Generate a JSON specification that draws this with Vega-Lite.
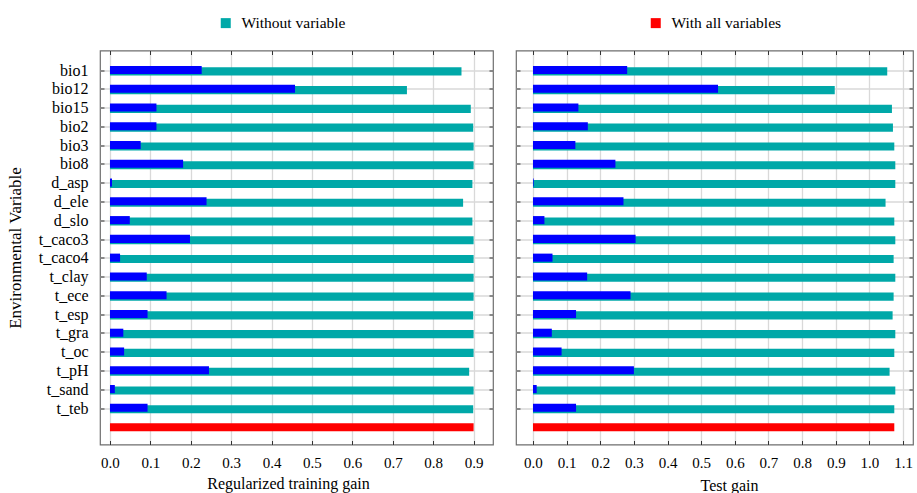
{
  "$schema": "https://vega.github.io/schema/vega-lite/v6.json",
  "padding": {"left": 5, "top": 14.5, "right": 0, "bottom": 0},
  "background": "white",
  "config": {
    "font": "Liberation Serif",
    "view": {"stroke": "#6e6e6e", "strokeWidth": 1.2},
    "axis": {
      "labelFont": "Liberation Serif",
      "titleFont": "Liberation Serif",
      "labelColor": "#000000",
      "titleColor": "#000000",
      "titleFontWeight": "normal",
      "domain": false,
      "tickColor": "#333333",
      "tickSize": -4,
      "gridColor": "#d9d9d9",
      "gridWidth": 1.3
    }
  },
  "datasets": {
    "jk": [
      {"variable": "bio1", "series": "Without variable", "train": 0.870, "test": 1.053},
      {"variable": "bio1", "series": "With only variable", "train": 0.227, "test": 0.280},
      {"variable": "bio12", "series": "Without variable", "train": 0.735, "test": 0.897},
      {"variable": "bio12", "series": "With only variable", "train": 0.458, "test": 0.550},
      {"variable": "bio15", "series": "Without variable", "train": 0.893, "test": 1.067},
      {"variable": "bio15", "series": "With only variable", "train": 0.115, "test": 0.135},
      {"variable": "bio2", "series": "Without variable", "train": 0.899, "test": 1.070},
      {"variable": "bio2", "series": "With only variable", "train": 0.115, "test": 0.163},
      {"variable": "bio3", "series": "Without variable", "train": 0.900, "test": 1.074},
      {"variable": "bio3", "series": "With only variable", "train": 0.076, "test": 0.126},
      {"variable": "bio8", "series": "Without variable", "train": 0.900, "test": 1.077},
      {"variable": "bio8", "series": "With only variable", "train": 0.181, "test": 0.245},
      {"variable": "d_asp", "series": "Without variable", "train": 0.897, "test": 1.077},
      {"variable": "d_asp", "series": "With only variable", "train": 0.005, "test": 0.002},
      {"variable": "d_ele", "series": "Without variable", "train": 0.874, "test": 1.048},
      {"variable": "d_ele", "series": "With only variable", "train": 0.239, "test": 0.269},
      {"variable": "d_slo", "series": "Without variable", "train": 0.897, "test": 1.074},
      {"variable": "d_slo", "series": "With only variable", "train": 0.049, "test": 0.034},
      {"variable": "t_caco3", "series": "Without variable", "train": 0.900, "test": 1.077},
      {"variable": "t_caco3", "series": "With only variable", "train": 0.198, "test": 0.305},
      {"variable": "t_caco4", "series": "Without variable", "train": 0.900, "test": 1.072},
      {"variable": "t_caco4", "series": "With only variable", "train": 0.025, "test": 0.058},
      {"variable": "t_clay", "series": "Without variable", "train": 0.900, "test": 1.077},
      {"variable": "t_clay", "series": "With only variable", "train": 0.091, "test": 0.161},
      {"variable": "t_ece", "series": "Without variable", "train": 0.900, "test": 1.072},
      {"variable": "t_ece", "series": "With only variable", "train": 0.140, "test": 0.290},
      {"variable": "t_esp", "series": "Without variable", "train": 0.899, "test": 1.069},
      {"variable": "t_esp", "series": "With only variable", "train": 0.093, "test": 0.128},
      {"variable": "t_gra", "series": "Without variable", "train": 0.900, "test": 1.077},
      {"variable": "t_gra", "series": "With only variable", "train": 0.033, "test": 0.056},
      {"variable": "t_oc", "series": "Without variable", "train": 0.900, "test": 1.074},
      {"variable": "t_oc", "series": "With only variable", "train": 0.035, "test": 0.085},
      {"variable": "t_pH", "series": "Without variable", "train": 0.889, "test": 1.060},
      {"variable": "t_pH", "series": "With only variable", "train": 0.245, "test": 0.300},
      {"variable": "t_sand", "series": "Without variable", "train": 0.900, "test": 1.077},
      {"variable": "t_sand", "series": "With only variable", "train": 0.012, "test": 0.011},
      {"variable": "t_teb", "series": "Without variable", "train": 0.899, "test": 1.074},
      {"variable": "t_teb", "series": "With only variable", "train": 0.093, "test": 0.128},
      {"variable": "all", "series": "With all variables", "train": 0.900, "test": 1.074}
    ]
  },
  "data": {"name": "jk"},
  "spacing": 19,
  "hconcat": [
    {
      "width": 393,
      "height": 394,
      "resolve": {"axis": {"x": "independent", "y": "independent"}},
      "layer": [
        {
          "transform": [{"filter": "datum.series == 'Without variable'"}],
          "mark": {"type": "bar", "yOffset": 0.7},
          "encoding": {
            "y": {
              "field": "variable", "type": "nominal",
              "sort": ["bio1","bio12","bio15","bio2","bio3","bio8","d_asp","d_ele","d_slo","t_caco3","t_caco4","t_clay","t_ece","t_esp","t_gra","t_oc","t_pH","t_sand","t_teb","all"],
              "scale": {"domain": ["bio1","bio12","bio15","bio2","bio3","bio8","d_asp","d_ele","d_slo","t_caco3","t_caco4","t_clay","t_ece","t_esp","t_gra","t_oc","t_pH","t_sand","t_teb","all"], "paddingInner": 0.57, "paddingOuter": 0.78, "align": 0.55},
              "title": "Environmental Variable",
              "axis": {
                "orient": "left",
                "values": ["bio1","bio12","bio15","bio2","bio3","bio8","d_asp","d_ele","d_slo","t_caco3","t_caco4","t_clay","t_ece","t_esp","t_gra","t_oc","t_pH","t_sand","t_teb"],
                "labelFontSize": 16, "labelPadding": 16, "titleFontSize": 17, "titlePadding": 14, "grid": true
              }
            },
            "x": {
              "field": "train", "type": "quantitative",
              "scale": {"domain": [-0.0247, 0.948], "nice": false},
              "title": "Regularized training gain",
              "axis": {"orient": "bottom", "values": [0,0.1,0.2,0.3,0.4,0.5,0.6,0.7,0.8,0.9], "format": ".1f", "labelFontSize": 15, "labelPadding": 15, "titleFontSize": 16, "titlePadding": 5, "titleX": 188, "grid": true}
            },
            "color": {
              "field": "series", "type": "nominal",
              "scale": {"domain": ["Without variable", "With all variables"], "range": ["#00a8a8", "#ff0000"]},
              "legend": {"orient": "none", "legendX": 118, "legendY": -35.5, "direction": "horizontal", "columns": 2, "columnPadding": 302, "symbolType": "square", "symbolSize": 100, "symbolStrokeWidth": 0, "labelFontSize": 15.5, "labelFont": "Liberation Serif", "labelColor": "#000000", "labelOffset": 8, "title": null}
            }
          }
        },
        {
          "transform": [{"filter": "datum.series == 'With only variable'"}],
          "mark": {"type": "bar", "color": "#0000ff", "yOffset": -0.7},
          "encoding": {
            "y": {"field": "variable", "type": "nominal", "title": null, "axis": {"orient": "right", "labels": false, "grid": false, "values": ["bio1","bio12","bio15","bio2","bio3","bio8","d_asp","d_ele","d_slo","t_caco3","t_caco4","t_clay","t_ece","t_esp","t_gra","t_oc","t_pH","t_sand","t_teb"]}},
            "x": {"field": "train", "type": "quantitative", "title": null, "axis": {"orient": "top", "labels": false, "grid": false, "values": [0,0.1,0.2,0.3,0.4,0.5,0.6,0.7,0.8,0.9]}}
          }
        },
        {
          "transform": [{"filter": "datum.series == 'With all variables'"}],
          "mark": {"type": "bar"},
          "encoding": {
            "y": {"field": "variable", "type": "nominal", "axis": null},
            "x": {"field": "train", "type": "quantitative", "axis": null},
            "color": {"field": "series", "type": "nominal"}
          }
        }
      ]
    },
    {
      "width": 397,
      "height": 394,
      "resolve": {"axis": {"x": "independent", "y": "independent"}},
      "layer": [
        {
          "transform": [{"filter": "datum.series == 'Without variable'"}],
          "mark": {"type": "bar", "yOffset": 0.7},
          "encoding": {
            "y": {
              "field": "variable", "type": "nominal",
              "sort": ["bio1","bio12","bio15","bio2","bio3","bio8","d_asp","d_ele","d_slo","t_caco3","t_caco4","t_clay","t_ece","t_esp","t_gra","t_oc","t_pH","t_sand","t_teb","all"],
              "scale": {"domain": ["bio1","bio12","bio15","bio2","bio3","bio8","d_asp","d_ele","d_slo","t_caco3","t_caco4","t_clay","t_ece","t_esp","t_gra","t_oc","t_pH","t_sand","t_teb","all"], "paddingInner": 0.57, "paddingOuter": 0.78, "align": 0.55},
              "title": null,
              "axis": {
                "orient": "left", "labels": false,
                "values": ["bio1","bio12","bio15","bio2","bio3","bio8","d_asp","d_ele","d_slo","t_caco3","t_caco4","t_clay","t_ece","t_esp","t_gra","t_oc","t_pH","t_sand","t_teb"],
                "grid": true
              }
            },
            "x": {
              "field": "test", "type": "quantitative",
              "scale": {"domain": [-0.0505, 1.1296], "nice": false},
              "title": "Test gain",
              "axis": {"orient": "bottom", "values": [0,0.1,0.2,0.3,0.4,0.5,0.6,0.7,0.8,0.9,1.0,1.1], "format": ".1f", "labelFontSize": 15, "labelPadding": 15, "titleFontSize": 16, "titlePadding": 7, "titleX": 213, "grid": true}
            },
            "color": {"field": "series", "type": "nominal"}
          }
        },
        {
          "transform": [{"filter": "datum.series == 'With only variable'"}],
          "mark": {"type": "bar", "color": "#0000ff", "yOffset": -0.7},
          "encoding": {
            "y": {"field": "variable", "type": "nominal", "title": null, "axis": {"orient": "right", "labels": false, "grid": false, "values": ["bio1","bio12","bio15","bio2","bio3","bio8","d_asp","d_ele","d_slo","t_caco3","t_caco4","t_clay","t_ece","t_esp","t_gra","t_oc","t_pH","t_sand","t_teb"]}},
            "x": {"field": "test", "type": "quantitative", "title": null, "axis": {"orient": "top", "labels": false, "grid": false, "values": [0,0.1,0.2,0.3,0.4,0.5,0.6,0.7,0.8,0.9,1.0,1.1]}}
          }
        },
        {
          "transform": [{"filter": "datum.series == 'With all variables'"}],
          "mark": {"type": "bar"},
          "encoding": {
            "y": {"field": "variable", "type": "nominal", "axis": null},
            "x": {"field": "test", "type": "quantitative", "axis": null},
            "color": {"field": "series", "type": "nominal"}
          }
        }
      ]
    }
  ]
}
